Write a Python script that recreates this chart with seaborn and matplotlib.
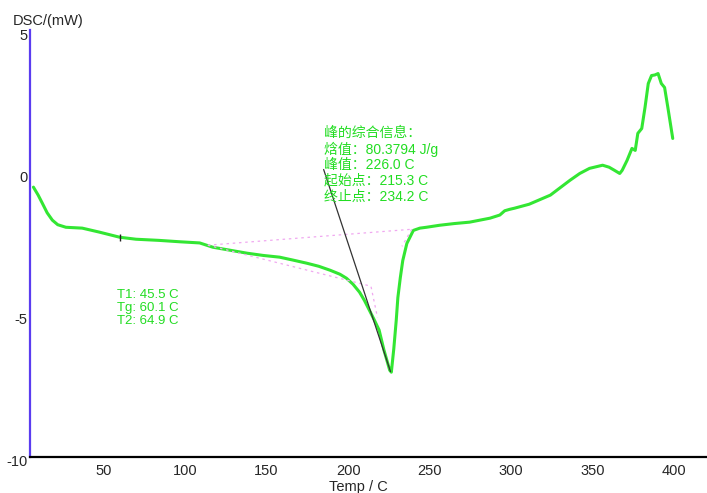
import numpy as np
import matplotlib
matplotlib.use('Agg')
import matplotlib.pyplot as plt
import matplotlib.transforms as mtransforms
from matplotlib.ticker import MultipleLocator
import seaborn as sns

# DSC trace
temp = [7.1, 10, 12.6, 15.5, 18.7, 22, 27, 37, 47.5, 60, 70, 84, 97, 109, 117, 128,
        138, 148, 158, 166, 174.5, 182, 189, 195, 199, 203, 207, 210, 213, 216, 219,
        222, 224, 225.5, 226.5, 228, 229.5, 230.5, 232, 233.5, 236, 240, 244, 248,
        256, 265, 274.5, 287, 293, 296, 299, 302, 311, 324, 336, 342, 348, 356, 360,
        363, 366.5, 368, 371, 374, 376, 377.6, 380, 382, 384, 386, 388, 390, 392,
        394, 396, 399]
dsc = [-0.52, -0.8, -1.09, -1.42, -1.68, -1.84, -1.93, -1.96, -2.1, -2.28, -2.35,
       -2.39, -2.44, -2.48, -2.63, -2.74, -2.84, -2.92, -2.98, -3.08, -3.19, -3.3,
       -3.44, -3.58, -3.72, -3.93, -4.21, -4.5, -4.84, -5.18, -5.54, -6.25, -6.65,
       -6.95, -7.02, -6.2, -5.2, -4.4, -3.7, -3.1, -2.5, -2.04, -1.96, -1.93, -1.86,
       -1.8, -1.75, -1.61, -1.5, -1.35, -1.3, -1.26, -1.12, -0.8, -0.28, -0.04, 0.14,
       0.25, 0.18, 0.08, -0.04, 0.07, 0.42, 0.84, 0.77, 1.37, 1.54, 2.28, 3.12, 3.40,
       3.42, 3.47, 3.12, 2.98, 2.28, 1.19]

# peak analysis helper lines
tangent_temp = [185, 226]
tangent_dsc = [0.1, -7.0]
base_temp = [114, 239]
base_dsc = [-2.56, -2.0]
lower_temp = [114, 214, 218]
lower_dsc = [-2.56, -4.0, -5.1]
end_temp = [239, 233]
end_dsc = [-2.0, -2.6]

peak_info = ['峰的综合信息：', '焓值：80.3794 J/g', '峰值：226.0 C',
             '起始点：215.3 C', '终止点：234.2 C']
tg_info = ['T1: 45.5 C', 'Tg: 60.1 C', 'T2: 64.9 C']
tg_temp = 60.1

x_ticks = [50, 100, 150, 200, 250, 300, 350, 400]
y_ticks = [-10, -5, 0, 5]

sns.set_style('white')
plt.rcParams['font.family'] = ['Liberation Sans', 'Noto Sans CJK SC']
plt.rcParams['axes.unicode_minus'] = False

green = '#33e633'
text_green = '#22dd22'
pink = '#f0a8f0'
axis_blue = '#5a3cf0'

fig = plt.figure(figsize=(7.07, 4.93), dpi=100)
ax = fig.add_axes([30 / 707, 36 / 493, 677 / 707, 427 / 493])

sns.lineplot(x=temp, y=dsc, ax=ax, color=green, lw=2.2, sort=False, estimator=None)

ax.plot(base_temp, base_dsc, color=pink, lw=0.9, ls=(0, (2, 3)))
ax.plot(lower_temp, lower_dsc, color=pink, lw=0.9, ls=(0, (2, 3)))
ax.plot(end_temp, end_dsc, color=pink, lw=0.9, ls=(0, (2, 3)))
ax.plot(tangent_temp, tangent_dsc, color='#333333', lw=0.9)

# small marker for Tg on the curve
tg_y = np.interp(tg_temp, temp, dsc)
ax.vlines(tg_temp, tg_y - 0.13, tg_y + 0.13, color='#222222', lw=1)

for i, s in enumerate(peak_info):
    ax.text(185.5, 1.37 - i * 0.555, s, color=text_green, fontsize=10,
            va='center', ha='left')
for i, s in enumerate(tg_info):
    ax.text(58.3, -4.32 - i * 0.45, s, color=text_green, fontsize=9.5,
            va='center', ha='left')

ax.set_xlim(5, 420)
ax.set_ylim(-10, 5)
ax.set_xticks(x_ticks)
ax.set_yticks(y_ticks)
ax.xaxis.set_minor_locator(MultipleLocator(25))
ax.yaxis.set_minor_locator(MultipleLocator(1))
ax.grid(False)

for side in ['top', 'right']:
    ax.spines[side].set_visible(False)
ax.spines['left'].set_color(axis_blue)
ax.spines['left'].set_linewidth(1.6)
ax.spines['bottom'].set_color('black')
ax.spines['bottom'].set_linewidth(1.6)

ax.tick_params(axis='x', which='both', direction='in', length=4, width=1,
               color='#333333', pad=5, labelsize=10.5)
ax.tick_params(axis='y', which='both', direction='in', length=2, width=1,
               color=axis_blue, pad=2, labelsize=10.5)

offset = mtransforms.ScaledTranslation(0, -0.04, fig.dpi_scale_trans)
for lbl in ax.get_yticklabels():
    lbl.set_transform(lbl.get_transform() + offset)

ax.set_xlabel('')
ax.set_ylabel('')
fig.text(358 / 707, 1 - 487 / 493, 'Temp / C', va='center', ha='center', fontsize=10.5)
fig.text(13 / 707, 1 - 21 / 493, 'DSC/(mW)', va='center', ha='left', fontsize=10.5)

fig.savefig('out.png', dpi=100)
